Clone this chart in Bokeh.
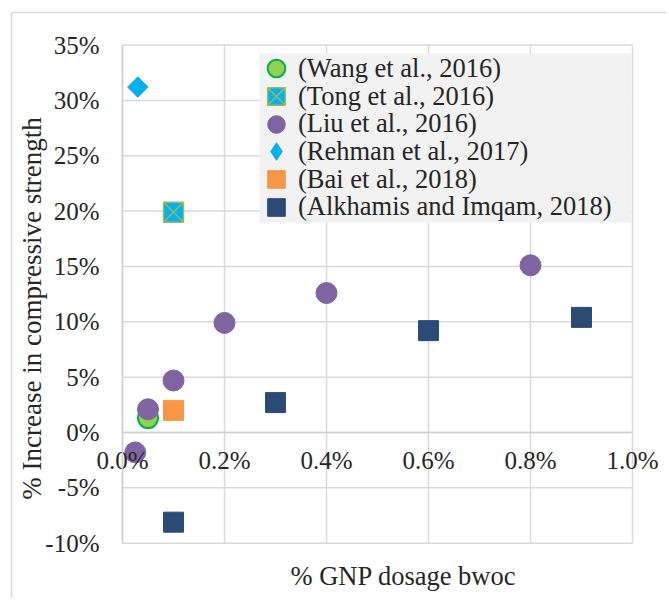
import math
from bokeh.plotting import figure
from bokeh.models import (FixedTicker, PrintfTickFormatter, Legend, LegendItem,
                          Label, BoxAnnotation)
from bokeh.embed import file_html
from bokeh.resources import INLINE

# ---- data: x = % GNP dosage bwoc, y = % increase in compressive strength ----
wang_x = [0.05]
wang_y = [1.3]
tong_x = [0.10]
tong_y = [19.9]
liu_x = [0.025, 0.05, 0.10, 0.20, 0.40, 0.80]
liu_y = [-1.8, 2.1, 4.7, 9.9, 12.6, 15.1]
rehman_x = [0.03]
rehman_y = [31.2]
bai_x = [0.10]
bai_y = [2.0]
alk_x = [0.10, 0.30, 0.60, 0.90]
alk_y = [-8.1, 2.7, 9.2, 10.4]

labels = ["(Wang et al., 2016)", "(Tong et al., 2016)", "(Liu et al., 2016)",
          "(Rehman et al., 2017)", "(Bai et al., 2018)",
          "(Alkhamis and Imqam, 2018)"]
x_ticks = [0.0, 0.2, 0.4, 0.6, 0.8, 1.0]
y_ticks = [-10, -5, 0, 5, 10, 15, 20, 25, 30, 35]
x_title = "% GNP dosage bwoc"
y_title = "% Increase in compressive strength"

FONT = "Liberation Serif"
GRID = "#d9d9d9"
TXT = "#262626"

# ---- layout (page pixels -> plot units) ----
OX, OY = 0, 0              # where the canvas lands on the page
W, H = 666, 598
PX0, PX_PER = 122.0, 510.0  # x=0 at page x 122, 510 px per 1.0 %
PY0, PY_PER = 432.0, 11.07  # y=0 at page y 432, 11.07 px per 1 %


def dx(px):
    return (px - PX0) / PX_PER


def dy(py):
    return (PY0 - py) / PY_PER


p = figure(width=W, height=H,
           x_range=(dx(OX), dx(OX + W)), y_range=(dy(OY + H), dy(OY)),
           output_backend="svg", toolbar_location=None,
           min_border=0, min_border_left=0, min_border_right=0,
           min_border_top=0, min_border_bottom=0)
p.outline_line_color = None
p.background_fill_color = "white"
p.border_fill_color = "white"
p.grid.visible = False

# outer chart border (top and left edges visible)
p.segment(x0=[dx(11), dx(11)], y0=[dy(12), dy(12)],
          x1=[dx(OX + W + 5), dx(11)], y1=[dy(12), dy(OY + H + 5)],
          line_color=GRID, line_width=1.5)

# plot-area grid lines, built from the tick lists
p.segment(x0=x_ticks, y0=[y_ticks[0]] * len(x_ticks),
          x1=x_ticks, y1=[y_ticks[-1]] * len(x_ticks),
          line_color=GRID, line_width=1.5)
p.segment(x0=[x_ticks[0]] * len(y_ticks), y0=y_ticks,
          x1=[x_ticks[-1]] * len(y_ticks), y1=y_ticks,
          line_color=GRID, line_width=1.5)

# axes crossing at zero
p.xaxis.ticker = FixedTicker(ticks=x_ticks)
p.yaxis.ticker = FixedTicker(ticks=y_ticks)
p.xaxis.formatter = PrintfTickFormatter(format="%.1f%%")
p.yaxis.formatter = PrintfTickFormatter(format="%d%%")
p.xaxis.fixed_location = 0
p.yaxis.fixed_location = 0
p.xaxis.bounds = (x_ticks[0], x_ticks[-1])
p.yaxis.bounds = (y_ticks[0], y_ticks[-1])
for ax in (p.xaxis, p.yaxis):
    ax.major_tick_line_color = None
    ax.minor_tick_line_color = None
    ax.major_tick_out = 0
    ax.major_tick_in = 0
    ax.minor_tick_out = 0
    ax.minor_tick_in = 0
    ax.axis_line_color = "#d0d0d0"
    ax.axis_line_width = 1.5
    ax.major_label_text_font = FONT
    ax.major_label_text_font_size = "25px"
    ax.major_label_text_color = TXT
p.yaxis.major_label_standoff = 23
p.xaxis.major_label_standoff = 14

# legend background
p.add_layout(BoxAnnotation(left=dx(259), right=dx(631), top=dy(53), bottom=dy(222),
                           fill_color="#f2f2f2", fill_alpha=1.0, line_color=None))

# series
r_wang = p.scatter(wang_x, wang_y, marker="circle", size=20,
                   fill_color="#92d050", line_color="#00b050", line_width=2)
r_tong = p.scatter(tong_x, tong_y, marker="square_x", size=20,
                   fill_color="#00b0f0", line_color="#9bbb59", line_width=1.5)
r_liu = p.scatter(liu_x, liu_y, marker="circle", size=21,
                  fill_color="#8064a2", line_color="#8064a2")
r_reh_leg = p.scatter(rehman_x, rehman_y, marker="diamond", size=20,
                      fill_color="#00b0f0", line_color="#31a9d9")
r_reh = p.scatter(rehman_x, rehman_y, marker="square", angle=math.pi / 4,
                  size=14.5, fill_color="#00b0f0", line_color="#31a9d9")
r_bai = p.scatter(bai_x, bai_y, marker="square", size=20,
                  fill_color="#f79646", line_color="#f79646")
r_alk = p.scatter(alk_x, alk_y, marker="square", size=20,
                  fill_color="#2b4a76", line_color="#2b4a76")

# legend: one entry per Legend so the rows can sit close together
GL = 44
for i, (lab, r) in enumerate(zip(labels, [r_wang, r_tong, r_liu, r_reh_leg, r_bai, r_alk])):
    yc = 68.3 + 27.7 * i
    leg = Legend(items=[LegendItem(label=lab, renderers=[r])],
                 location=(254 - OX, (OY + H) - (yc + GL / 2)),
                 glyph_width=GL, glyph_height=GL, spacing=0,
                 label_standoff=0, padding=0, margin=0,
                 background_fill_alpha=0, border_line_color=None,
                 label_text_font=FONT, label_text_font_size="26.5px",
                 label_text_color=TXT)
    p.add_layout(leg)

# axis titles
p.add_layout(Label(x=dx(403), y=dy(575), text=x_title, text_align="center",
                   text_baseline="middle", text_font=FONT,
                   text_font_size="26.5px", text_color=TXT))
p.add_layout(Label(x=dx(31), y=dy(308), text=y_title, angle=math.pi / 2,
                   text_align="center", text_baseline="middle",
                   text_font=FONT, text_font_size="27px", text_color=TXT))

open("out.html", "w").write(file_html(p, INLINE))
